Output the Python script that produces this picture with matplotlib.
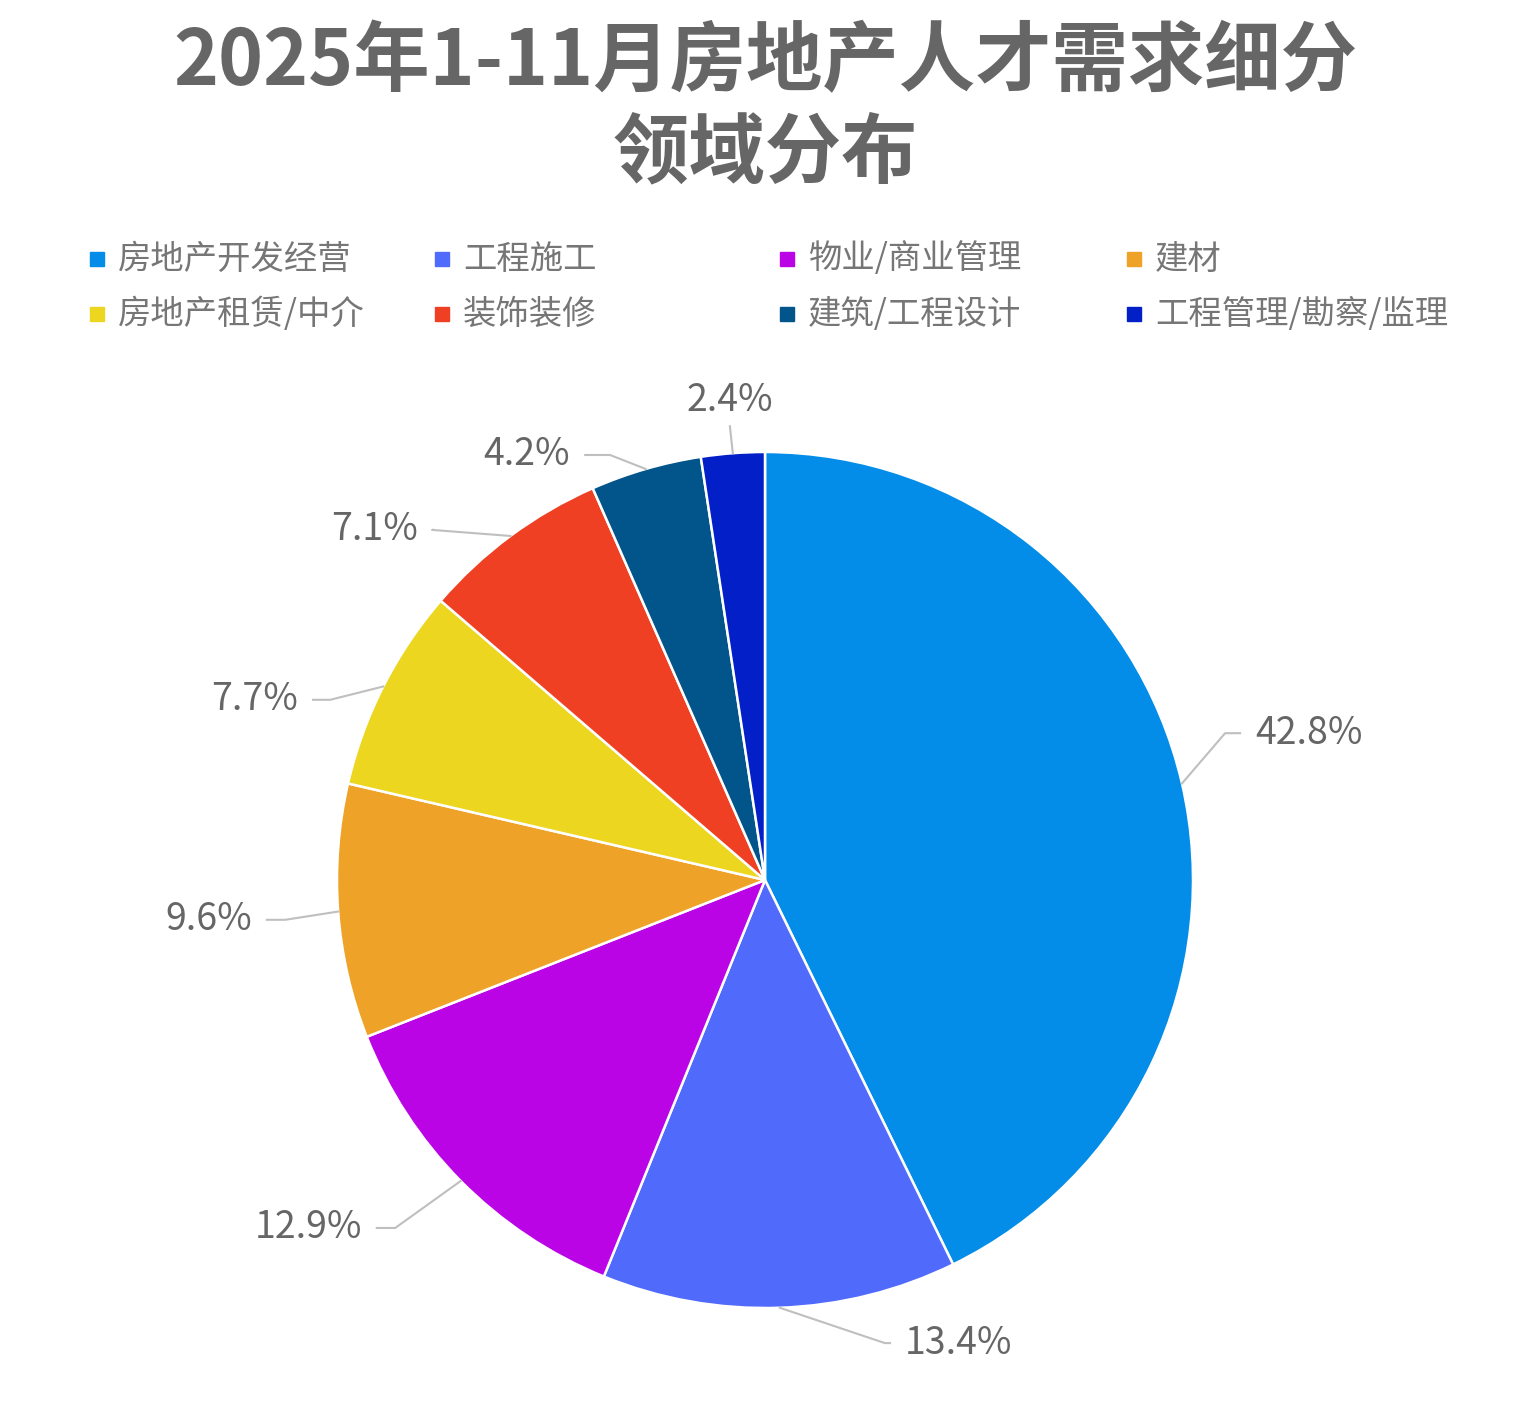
import matplotlib.pyplot as plt
from matplotlib.patches import Rectangle
import numpy as np

plt.rcParams['font.family'] = ['Noto Sans CJK SC', 'DejaVu Sans']

# 数据
categories = ['房地产开发经营', '工程施工', '物业/商业管理', '建材',
              '房地产租赁/中介', '装饰装修', '建筑/工程设计', '工程管理/勘察/监理']
shares = [42.8, 13.4, 12.9, 9.6, 7.7, 7.1, 4.2, 2.4]
colors = ['#038de8', '#506afc', '#bb04e6', '#eea227',
          '#ecd620', '#ef4023', '#01558a', '#0320c8']
title = '2025年1-11月房地产人才需求细分\n领域分布'

# 标签的折线拐点与文字位置（半径=1 为单位）
elbows = [(1.075, 0.343), (0.280, -1.082), (-0.864, -0.813), (-1.121, -0.093),
          (-1.016, 0.421), (-0.778, 0.818), (-0.362, 0.993), (-0.082, 1.06)]
text_x = [1.145, 0.327, -0.942, -1.199, -1.091, -0.81, -0.455, -0.082]
text_y = [0.343, -1.082, -0.813, -0.093, 0.421, 0.818, 0.993, 1.121]

W, H = 1525, 1404
fig = plt.figure(figsize=(W / 100, H / 100), dpi=100)

cx, cy, R = 765, 880, 428
hw, hh_up, hh_dn = 700, 500, 500
ax = fig.add_axes([(cx - hw) / W, (H - cy - hh_dn) / H, 2 * hw / W, (hh_up + hh_dn) / H])

wedges, _ = ax.pie(shares, colors=colors, startangle=90, counterclock=False,
                   radius=1, wedgeprops=dict(edgecolor='white', linewidth=1.8))
ax.set_xlim(-hw / R, hw / R)
ax.set_ylim(-hh_dn / R, hh_up / R)
ax.set_aspect('equal', adjustable='box')
ax.axis('off')

grey = '#bfbfbf'
for i, w in enumerate(wedges):
    ang = np.deg2rad((w.theta1 + w.theta2) / 2)
    ex, ey = np.cos(ang), np.sin(ang)
    bx, by = elbows[i]
    label = f'{shares[i]:.1f}%'
    if i == len(wedges) - 1:
        ax.plot([ex, bx], [ey, by], color=grey, lw=1.5)
        ax.text(text_x[i], text_y[i], label, ha='center', va='center',
                fontsize=27, color='#666666')
        continue
    right = text_x[i] > 0
    hx = text_x[i] - 0.035 if right else text_x[i] + 0.035
    ax.plot([ex, bx, hx], [ey, by, by], color=grey, lw=1.5)
    ax.text(text_x[i], text_y[i], label, ha='left' if right else 'right',
            va='center', fontsize=27, color='#666666')

# 标题
fig.text(cx / W, 1 - 108 / H, title, ha='center', va='center', fontsize=55,
         fontweight='bold', color='#666666', linespacing=1.22)

# 图例（手动绘制，4 列等宽）
col_x = [90, 435, 780, 1127]
row_y = [259, 314]
sq = 14
for i, name in enumerate(categories):
    x = col_x[i % 4]
    y = row_y[i // 4]
    fig.patches.append(Rectangle((x / W, 1 - (y + sq / 2) / H), sq / W, sq / H,
                                 transform=fig.transFigure, color=colors[i]))
    fig.text((x + 28) / W, 1 - y / H, name, ha='left', va='center',
             fontsize=24, color='#767676')

fig.savefig('out.png', dpi=100, facecolor='white')
